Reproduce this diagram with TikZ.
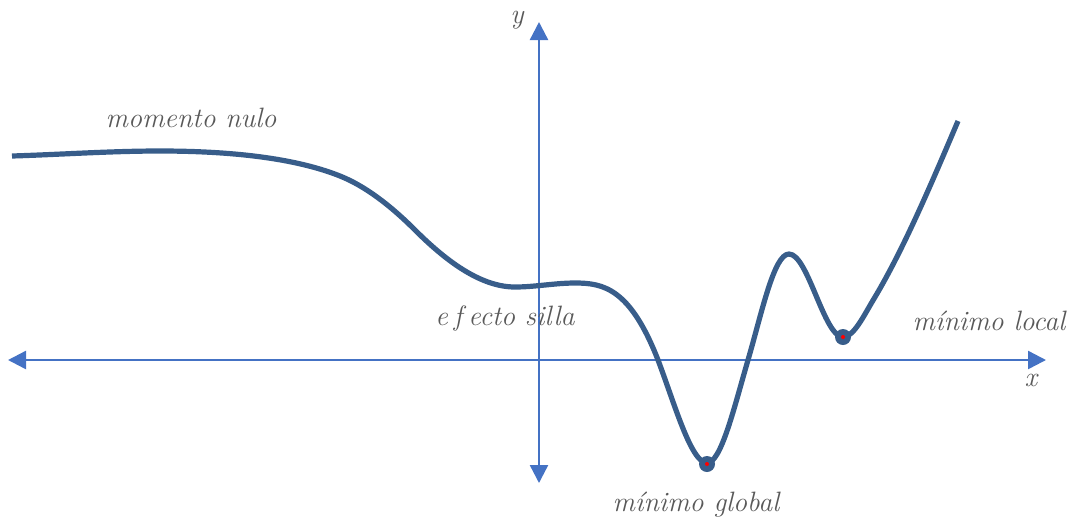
\documentclass[tikz,border=0pt]{standalone}
\usepackage{fontspec}
\usetikzlibrary{arrows.meta, positioning}

\definecolor{axisblue}{RGB}{68,114,196}
\definecolor{curveblue}{RGB}{56,93,138}
\definecolor{labelgrey}{RGB}{89,89,89}

\begin{document}
\begin{tikzpicture}[x=0.5pt, y=-0.5pt,
  axis/.style={draw=axisblue, line width=1.2pt, {Triangle[length=9pt, width=9pt]}-{Triangle[length=9pt, width=9pt]}},
  curve/.style={draw=curveblue, line width=2.6pt, line cap=butt, line join=round},
  label/.style={text=labelgrey, font=\fontsize{14}{17}\selectfont\itshape\addfontfeatures{LetterSpace=8}, inner sep=0pt},
  dot/.style={circle, fill=curveblue, minimum size=8pt, inner sep=0pt},
  core/.style={circle, fill=red, minimum size=2pt, inner sep=0pt}]
  \useasboundingbox (0,0) rectangle (1075,521);
  % axes
  \coordinate (xl) at (8,360);
  \coordinate (xr) at (1046,360);
  \coordinate (yt) at (539,22);
  \coordinate (yb) at (539,483);
  \draw [axis] (xl) -- (xr);
  \draw [axis] (yb) -- (yt);
  \node [label] (ylab) at (517,20) {y};
  \node [label] (xlab) at (1031,380) {x};
  % curve
  \draw [curve] (12,156) .. controls (61,154.5) and (111,151) .. (160,151)
    .. controls (220,151) and (290,156) .. (340,176)
    .. controls (365,186) and (390,205) .. (415,230)
    .. controls (448,263) and (482,287) .. (515,287)
    .. controls (535,287) and (555,283) .. (575,283)
    .. controls (603,283) and (630,288) .. (658,360)
    .. controls (674,402) and (691,463) .. (707,463)
    .. controls (721,463) and (734,408) .. (748,360)
    .. controls (762,312) and (774,254) .. (789,254)
    .. controls (808,254) and (824,337) .. (843,337)
    .. controls (854,337) and (864,315) .. (875,297)
    .. controls (903,250) and (930,187) .. (958,121);
  % extrema
  \node [dot] (gmin) at (707,464) {};
  \node [core] at (gmin) {};
  \node [dot] (lmin) at (843,337) {};
  \node [core] at (lmin) {};
  % labels
  \node [label] (nulo) at (191,118) {momento nulo};
  \node [label] (silla) at (505,318) {e\kern3pt f\kern3pt ecto silla};
  \node [label] (local) at (989,321) {mínimo local};
  \node [label] (global) at (696,505) {mínimo global};
\end{tikzpicture}
\end{document}
